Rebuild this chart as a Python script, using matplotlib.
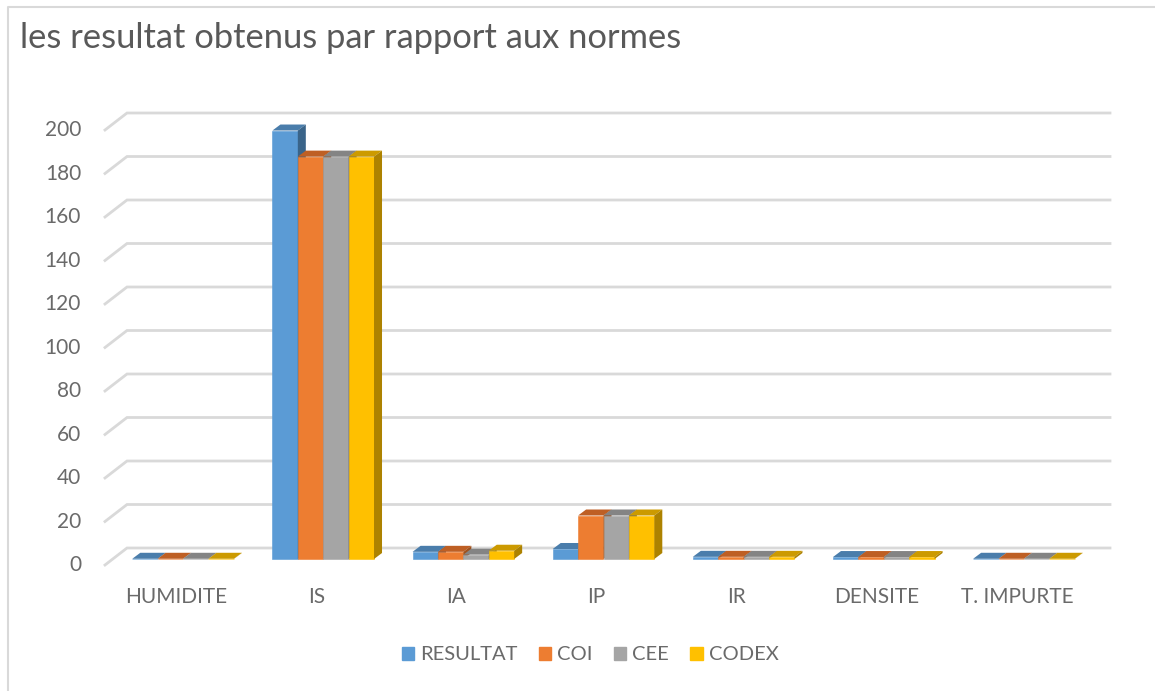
import matplotlib
matplotlib.use('Agg')
import matplotlib.pyplot as plt
from matplotlib.lines import Line2D
from matplotlib.patches import Polygon, Rectangle
from matplotlib.transforms import ScaledTranslation

categories = ['HUMIDITE', 'IS', 'IA', 'IP', 'IR', 'DENSITE', 'T. IMPURTE']
resultat = [0.1, 197, 3.3, 4.6, 1, 0.9, 0.1]
coi = [0.1, 185, 3.3, 20, 1, 0.9, 0.1]
cee = [0.1, 185, 2, 20, 1, 0.9, 0.1]
codex = [0.1, 185, 3.8, 20, 1, 0.9, 0.1]
series_names = ['RESULTAT', 'COI', 'CEE', 'CODEX']
yticks = [0, 20, 40, 60, 80, 100, 120, 140, 160, 180, 200]

colors = ['#5B9BD5', '#ED7D31', '#A5A5A5', '#FFC000']
tops = ['#4A7DAB', '#BE5F24', '#848484', '#CC9A00']
sides = ['#3A6489', '#A0521E', '#6E6E6E', '#AD8200']

plt.rcParams['font.family'] = ['Lato', 'DejaVu Sans']
W, H = 1155, 691
fig = plt.figure(figsize=(W / 100, H / 100), dpi=100)

# front plane of the fake 3d box, in pixels
left, right, y0, y200 = 113, 1094, 559, 124
ax = fig.add_axes([left / W, 1 - y0 / H, (right - left) / W, (y0 - y200) / H])
ax.set_xlim(-0.5, 6.5)
ax.set_ylim(0, 200)
ax.patch.set_visible(False)
for s in ax.spines.values():
    s.set_visible(False)

# one pixel in data units
px_x = 7 / (right - left)
px_y = 200 / (y0 - y200)
bar_dx, bar_dy = 8 * px_x, 6 * px_y

# gridlines on the wall, with the slanted bit on the left
x_a = -0.5 - 8 * px_x
x_b = x_a + 22 * px_x
x_end = x_a + 1005 * px_x
for v in yticks:
    ax.plot([x_a, x_b, x_end], [v - 6 * px_y, v + 11 * px_y, v + 11 * px_y],
            color='#D9D9D9', lw=2, clip_on=False, zorder=1, solid_joinstyle='miter')

width = 25.4 * px_x
for i, name in enumerate(series_names):
    vals = [resultat, coi, cee, codex][i]
    for j, v in enumerate(vals):
        x = j + (i - 2) * width
        ax.bar(x, v, width, align='edge', color=colors[i], ec=colors[i], lw=0.4, zorder=3 + i, clip_on=False)
        ax.add_patch(Polygon([(x, v), (x + width, v), (x + width + bar_dx, v + bar_dy), (x + bar_dx, v + bar_dy)],
                             closed=True, fc=tops[i], ec='none', zorder=3 + i, clip_on=False))
        ax.add_patch(Polygon([(x + width, 0), (x + width + bar_dx, bar_dy), (x + width + bar_dx, v + bar_dy), (x + width, v)],
                             closed=True, fc=sides[i], ec='none', zorder=3 + i, clip_on=False))

ax.set_xticks(range(len(categories)))
ax.set_xticklabels(categories)
ax.set_yticks(yticks)
ax.tick_params(axis='both', length=0, labelsize=15, labelcolor='#6A6A6A')
ax.tick_params(axis='x', pad=20)
ax.tick_params(axis='y', pad=23)
off_y = ScaledTranslation(0, -3 / 72, fig.dpi_scale_trans)
for lab in ax.get_yticklabels():
    lab.set_transform(lab.get_transform() + off_y)
off_x = ScaledTranslation(-7 / 100, 0, fig.dpi_scale_trans)
for lab in ax.get_xticklabels():
    lab.set_transform(lab.get_transform() + off_x)

fig.text(20 / W, 1 - 38.5 / H, 'les resultat obtenus par rapport aux normes',
         fontsize=24.8, color='#595959', va='center', ha='left')

# outer chart border, only top and left show in the screenshot
fig.add_artist(Line2D([8 / W, 8 / W, 1], [0, 1 - 7 / H, 1 - 7 / H], transform=fig.transFigure,
                      color='#D9D9D9', lw=1.5))

# legend
handles = [Rectangle((0, 0), 1, 1, color=c) for c in colors]
fig.legend(handles, series_names, loc='center', bbox_to_anchor=(590 / W, 1 - 655 / H), ncol=4,
           frameon=False, fontsize=14.5, labelcolor='#6A6A6A', handlelength=0.62, handleheight=0.62,
           handletextpad=0.3, columnspacing=1.05)

fig.savefig('out.png', dpi=100)
